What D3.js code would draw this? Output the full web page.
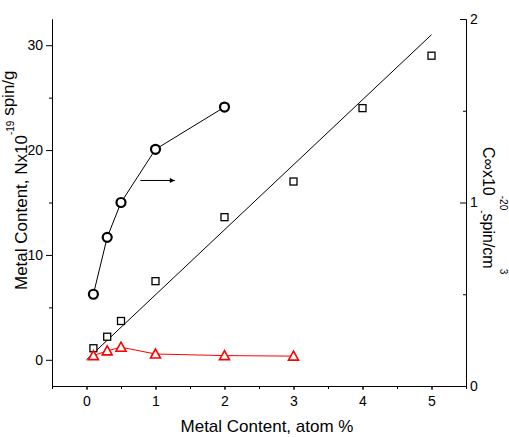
<!DOCTYPE html>
<html>
<head>
<meta charset="utf-8">
<script src="https://cdn.jsdelivr.net/npm/d3@7"></script>
<style>
  body { margin: 0; background: #fff; }
  svg text { font-family: "Liberation Sans", Arial, sans-serif; fill: #000; }
</style>
</head>
<body>
<div class="visholder"></div>
<script>
// metal content, atom %
const squareX = [0.1, 0.3, 0.5, 1, 2, 3, 4, 5];
const squareY = [1.1, 2.2, 3.7, 7.5, 13.6, 17.0, 24.0, 29.0];   // N x10^-19 spin/g (left)
const circleX = [0.1, 0.3, 0.5, 1, 2];
const circleY = [0.50, 0.81, 1.00, 1.29, 1.52];                 // C x10^-20 spin/cm3 (right)
const triangleX = [0.1, 0.3, 0.5, 1, 2, 3];
const triangleY = [0.4, 0.85, 1.2, 0.55, 0.4, 0.35];           // left axis
const fitX = [0, 5];
const fitY = [0, 31];
const arrowX = [0.78, 1.28];
const arrowY = [1.12, 1.12];                                     // right axis
const xTicks = [0, 1, 2, 3, 4, 5];
const leftTicks = [0, 10, 20, 30];
const rightTicks = [0, 1, 2];

let width = 509,
    height = 437;

var svg = d3.select(".visholder")
    .append("svg")
    .attr("width", width)
    .attr("height", height);

var x = d3.scaleLinear().domain([-0.5, 5.5]).range([52, 466]);
var yL = d3.scaleLinear().domain([-2.5, 32.5]).range([386, 19]);
var yR = d3.scaleLinear().domain([0, 2]).range([386, 19]);

function styleAxis(g) {
    g.selectAll("path, line").attr("stroke", "#000").attr("stroke-width", 1);
    g.selectAll("text").style("font-size", "14px").attr("fill", "#000");
    g.attr("font-family", null);
}

// bottom axis
svg.append("g")
    .attr("transform", "translate(0,386)")
    .call(d3.axisBottom(x).tickValues(d3.range(-0.5, 5.51, 0.5)).tickFormat("").tickSize(3).tickSizeOuter(0))
    .call(styleAxis);
svg.append("g")
    .attr("transform", "translate(0,386)")
    .call(d3.axisBottom(x).tickValues(xTicks).tickFormat(d3.format("d")).tickSize(4).tickPadding(6).tickSizeOuter(0))
    .call(styleAxis);

// left axis
svg.append("g")
    .attr("transform", "translate(52,0)")
    .call(d3.axisLeft(yL).tickValues([5, 15, 25]).tickFormat("").tickSize(3).tickSizeOuter(0))
    .call(styleAxis);
svg.append("g")
    .attr("transform", "translate(52,0)")
    .call(d3.axisLeft(yL).tickValues(leftTicks).tickFormat(d3.format("d")).tickSize(6).tickPadding(3).tickSizeOuter(0))
    .call(styleAxis);

// right axis, ticks pointing inward
svg.append("g")
    .attr("transform", "translate(466,0)")
    .call(d3.axisRight(yR).tickValues([0.5, 1.5]).tickFormat("").tickSize(-3).tickSizeOuter(0))
    .call(styleAxis);
svg.append("g")
    .attr("transform", "translate(466,0)")
    .call(d3.axisRight(yR).tickValues(rightTicks).tickFormat(d3.format("d")).tickSize(-6).tickPadding(4).tickSizeOuter(0))
    .call(styleAxis);

// axis titles
svg.append("text")
    .attr("x", 267)
    .attr("y", 432)
    .attr("text-anchor", "middle")
    .style("font-size", "17px")
    .text("Metal Content, atom %");

var leftTitle = svg.append("text")
    .attr("transform", "translate(27,290) rotate(-90)")
    .style("font-size", "17px");
leftTitle.append("tspan").text("Metal Content, Nx10");
leftTitle.append("tspan").attr("dy", -13).style("font-size", "10px").text("-19");
leftTitle.append("tspan").style("font-size", "17px").text(" spin/g");

var rightTitle = svg.append("text")
    .attr("transform", "translate(483,147) rotate(90)")
    .style("font-size", "16px");
rightTitle.append("tspan").text("C\u221Ex10");
rightTitle.append("tspan").attr("dy", -17).style("font-size", "10px").text("-20");
rightTitle.append("tspan").attr("dy", 21).style("font-size", "10px").text("-");
rightTitle.append("tspan").attr("dy", -4).style("font-size", "16px").text("spin/cm");
rightTitle.append("tspan").attr("dy", -17).style("font-size", "10px").text("3");

// lines
var fitLine = d3.line().x(d => x(d[0])).y(d => yL(d[1]));
svg.append("path")
    .datum(d3.zip(fitX, fitY))
    .attr("d", fitLine)
    .attr("fill", "none")
    .attr("stroke", "#000")
    .attr("stroke-width", 1);

svg.append("path")
    .datum(d3.zip(triangleX, triangleY))
    .attr("d", fitLine)
    .attr("fill", "none")
    .attr("stroke", "#ff0000")
    .attr("stroke-width", 1);

var rightLine = d3.line().x(d => x(d[0])).y(d => yR(d[1]));
svg.append("path")
    .datum(d3.zip(circleX, circleY))
    .attr("d", rightLine)
    .attr("fill", "none")
    .attr("stroke", "#000")
    .attr("stroke-width", 1);

// arrow
svg.append("defs").append("marker")
    .attr("id", "head")
    .attr("viewBox", "0 0 10 10")
    .attr("refX", 10)
    .attr("refY", 5)
    .attr("markerWidth", 8)
    .attr("markerHeight", 5)
    .attr("markerUnits", "userSpaceOnUse")
    .attr("orient", "auto")
    .append("path")
    .attr("d", "M0,0 L10,5 L0,10 Z")
    .attr("fill", "#000");
svg.append("path")
    .datum(d3.zip(arrowX, arrowY))
    .attr("d", rightLine)
    .attr("stroke", "#000")
    .attr("stroke-width", 1)
    .attr("marker-end", "url(#head)");

// markers
svg.selectAll(".sq")
    .data(d3.zip(squareX, squareY))
    .enter()
    .append("rect")
    .attr("class", "sq")
    .attr("x", d => x(d[0]) - 3.5)
    .attr("y", d => yL(d[1]) - 3.5)
    .attr("width", 7)
    .attr("height", 7)
    .attr("fill", "#fff")
    .attr("stroke", "#000")
    .attr("stroke-width", 1.3);

svg.selectAll(".tri")
    .data(d3.zip(triangleX, triangleY))
    .enter()
    .append("path")
    .attr("class", "tri")
    .attr("transform", d => `translate(${x(d[0])},${yL(d[1])})`)
    .attr("d", "M0,-5 L5,4 L-5,4 Z")
    .attr("fill", "#fff")
    .attr("stroke", "#ff0000")
    .attr("stroke-width", 1.6);

svg.selectAll(".dot")
    .data(d3.zip(circleX, circleY))
    .enter()
    .append("circle")
    .attr("class", "dot")
    .attr("cx", d => x(d[0]))
    .attr("cy", d => yR(d[1]))
    .attr("r", 4.5)
    .attr("fill", "#fff")
    .attr("stroke", "#000")
    .attr("stroke-width", 2.2);
</script>
</body>
</html>
